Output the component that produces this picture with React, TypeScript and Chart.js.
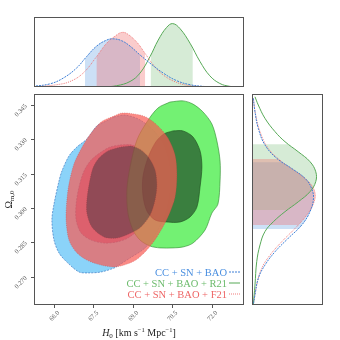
import React, { useEffect, useRef } from 'react';
import { Chart, registerables } from 'chart.js';

Chart.register(...registerables);

type Pt = [number, number];

// ---------- axis ranges & ticks ----------
const H0_MIN = 65.24;
const H0_MAX = 73.22;
const OM_MIN = 0.2577;
const OM_MAX = 0.3497;
const P_MAX_TOP = 1.104;
const P_MAX_SIDE = 1.097;

const H0_TICKS = [66.0, 67.5, 69.0, 70.5, 72.0];
const OM_TICKS = [0.27, 0.285, 0.3, 0.315, 0.33, 0.345];

const SERIES_LABELS = ['CC + SN + BAO', 'CC + SN + BAO + R21', 'CC + SN + BAO + F21'];

// ---------- 2D contours (H0, Omega_m0) ----------
const BLUE_OUTER: Pt[] = [
  [68.28, 0.3397], [67.98, 0.3379], [67.63, 0.3358], [67.25, 0.3301], [66.87, 0.3266],
  [66.57, 0.3227], [66.3, 0.3161], [66.19, 0.3118], [66.0, 0.3017], [65.92, 0.2948],
  [66.0, 0.286], [66.19, 0.2804], [66.49, 0.2764], [66.95, 0.2721], [67.33, 0.2717],
  [67.79, 0.2721], [68.28, 0.2738], [68.47, 0.2751], [68.89, 0.2782], [69.46, 0.2826],
  [69.91, 0.2895], [70.25, 0.2983], [70.41, 0.3078], [70.41, 0.3174], [70.22, 0.3262],
  [69.84, 0.3331], [69.27, 0.3384], [68.7, 0.3405],
];
const BLUE_INNER: Pt[] = [
  [68.51, 0.3275], [68.96, 0.3275], [69.34, 0.3253], [69.65, 0.3209], [69.8, 0.3144],
  [69.8, 0.3057], [69.61, 0.2978], [69.27, 0.2913], [68.81, 0.2869], [68.39, 0.2852],
  [67.9, 0.2847], [67.41, 0.286], [67.03, 0.2891], [66.84, 0.2948], [66.84, 0.3017],
  [66.95, 0.3092], [67.14, 0.3161], [67.41, 0.3209], [67.79, 0.3244], [68.13, 0.3266],
];
const GREEN_OUTER: Pt[] = [
  [70.41, 0.3462], [70.9, 0.3467], [71.28, 0.3453], [71.66, 0.3419], [72.0, 0.3366],
  [72.19, 0.3292], [72.31, 0.3205], [72.31, 0.3118], [72.23, 0.3017], [72.0, 0.2978],
  [71.74, 0.2904], [71.28, 0.2847], [70.9, 0.283], [70.52, 0.2826], [70.03, 0.2826],
  [69.65, 0.2834], [69.27, 0.286], [69.0, 0.2904], [68.81, 0.2978], [68.77, 0.3078],
  [68.89, 0.3179], [69.15, 0.3296], [69.53, 0.3375], [69.95, 0.3436],
];
const GREEN_INNER: Pt[] = [
  [70.52, 0.3336], [70.9, 0.3336], [71.28, 0.331], [71.55, 0.3249], [71.62, 0.3179],
  [71.55, 0.3092], [71.43, 0.3004], [71.17, 0.2961], [70.79, 0.2939], [70.29, 0.2939],
  [69.84, 0.2948], [69.53, 0.2987], [69.38, 0.3057], [69.38, 0.3135], [69.57, 0.3218],
  [69.87, 0.3288], [70.18, 0.3323],
];
const RED_OUTER: Pt[] = [
  [68.28, 0.3401], [68.58, 0.3414], [69.04, 0.341], [69.49, 0.3397], [69.95, 0.3358],
  [70.33, 0.3305], [70.6, 0.3231], [70.67, 0.3144], [70.6, 0.3048], [70.33, 0.2961],
  [69.91, 0.2874], [69.53, 0.2817], [69.11, 0.2773], [68.66, 0.2751], [68.28, 0.2743],
  [67.79, 0.2751], [67.25, 0.2773], [66.84, 0.2808], [66.57, 0.286], [66.46, 0.2948],
  [66.49, 0.3035], [66.57, 0.3105], [66.76, 0.3192], [67.03, 0.3257], [67.33, 0.3314],
  [67.79, 0.3375],
];
const RED_INNER: Pt[] = [
  [68.55, 0.3266], [68.92, 0.327], [69.3, 0.3253], [69.61, 0.3218], [69.84, 0.3166],
  [69.91, 0.31], [69.84, 0.3035], [69.65, 0.2969], [69.3, 0.2917], [68.92, 0.2891],
  [68.39, 0.2869], [67.9, 0.2874], [67.44, 0.2917], [67.25, 0.2978], [67.25, 0.3035],
  [67.33, 0.31], [67.48, 0.3174], [67.71, 0.3218], [68.05, 0.3249],
];

// ---------- 1D marginals: H0 ----------
const TOP_BLUE_H0 = [65.2, 65.85, 66.35, 66.86, 67.24, 67.62, 68.0, 68.25, 68.57, 68.89, 69.27, 69.65, 70.15, 70.66, 71.17, 71.66, 72.11];
const TOP_BLUE_P = [0.01, 0.05, 0.14, 0.3, 0.48, 0.645, 0.74, 0.76, 0.73, 0.645, 0.505, 0.375, 0.22, 0.1, 0.036, 0.01, 0];
const TOP_RED_H0 = [65.34, 66.1, 66.61, 67.11, 67.62, 68.0, 68.38, 68.57, 68.76, 69.14, 69.46, 69.77, 70.15, 70.66, 71.17, 71.66];
const TOP_RED_P = [0.005, 0.036, 0.087, 0.22, 0.48, 0.69, 0.82, 0.86, 0.845, 0.71, 0.53, 0.35, 0.19, 0.072, 0.02, 0.005];
const TOP_GREEN_H0 = [67.87, 68.38, 68.89, 69.27, 69.65, 69.96, 70.28, 70.51, 70.79, 71.17, 71.55, 71.92, 72.3, 72.68, 73.06];
const TOP_GREEN_P = [0, 0.02, 0.087, 0.22, 0.48, 0.74, 0.94, 1.0, 0.92, 0.69, 0.4, 0.177, 0.056, 0.01, 0];
const TOP_BLUE_BAND = [67.18, 69.27];
const TOP_RED_BAND = [67.62, 69.46];
const TOP_GREEN_BAND = [69.68, 71.27];

// ---------- 1D marginals: Omega_m0 ----------
const SIDE_BLUE_OM = [0.3478, 0.342, 0.3347, 0.3275, 0.3217, 0.3173, 0.3129, 0.3086, 0.3042, 0.2984, 0.2926, 0.2868, 0.2809, 0.2751, 0.2693, 0.2621, 0.2577];
const SIDE_BLUE_P = [0.02, 0.046, 0.097, 0.2, 0.38, 0.61, 0.82, 0.92, 0.95, 0.896, 0.77, 0.56, 0.355, 0.2, 0.097, 0.046, 0.02];
const SIDE_GREEN_OM = [0.3485, 0.3449, 0.3391, 0.3333, 0.3289, 0.3245, 0.3202, 0.3158, 0.3115, 0.3071, 0.3027, 0.2984, 0.294, 0.2897, 0.2839, 0.2766, 0.2664, 0.2577];
const SIDE_GREEN_P = [0.046, 0.097, 0.2, 0.355, 0.51, 0.715, 0.896, 0.985, 0.985, 0.896, 0.715, 0.51, 0.33, 0.2, 0.124, 0.073, 0.046, 0.02];
const SIDE_RED_OM = [0.3478, 0.3405, 0.3333, 0.326, 0.3202, 0.3151, 0.3108, 0.3064, 0.302, 0.2969, 0.2911, 0.2853, 0.2795, 0.2737, 0.2664, 0.2577];
const SIDE_RED_P = [0.02, 0.057, 0.124, 0.25, 0.46, 0.715, 0.896, 0.974, 0.95, 0.845, 0.665, 0.46, 0.28, 0.15, 0.073, 0.02];
const SIDE_BLUE_BAND = [0.2908, 0.3199];
const SIDE_GREEN_BAND = [0.2991, 0.3278];
const SIDE_RED_BAND = [0.2926, 0.3214];

// ---------- styles ----------
const SERIF = '"Liberation Serif", "DejaVu Serif", serif';
const BLUE_LINE = '#3d7fd6';
const GREEN_LINE = '#57a957';
const RED_LINE = 'rgba(238,110,110,0.9)';
const BLUE_TEXT = '#4a8fe0';
const GREEN_TEXT = '#6cbb6c';
const RED_TEXT = '#ee6666';
const FRAME = '#555';

const poly = (pts: Pt[]) => [...pts, pts[0]].map(([x, y]) => ({ x, y }));
const curve = (xs: number[], ys: number[]) => xs.map((x, i) => ({ x, y: ys[i] }));

type Seg = { t: string; size: number; italic?: boolean; dy?: number };
const segFont = (s: Seg) => `${s.italic ? 'italic ' : ''}${s.size}px ${SERIF}`;
function richWidth(ctx: CanvasRenderingContext2D, segs: Seg[]) {
  let w = 0;
  for (const s of segs) {
    ctx.font = segFont(s);
    w += ctx.measureText(s.t).width;
  }
  return w;
}
function drawRich(ctx: CanvasRenderingContext2D, segs: Seg[], x: number, y: number) {
  let cx = x;
  for (const s of segs) {
    ctx.font = segFont(s);
    ctx.fillText(s.t, cx, y + (s.dy || 0));
    cx += ctx.measureText(s.t).width;
  }
}

const framePlugin = {
  id: 'frame',
  afterDraw(chart: any) {
    const { ctx, chartArea: a } = chart;
    ctx.save();
    ctx.strokeStyle = FRAME;
    ctx.lineWidth = 1;
    ctx.strokeRect(a.left + 0.5, a.top + 0.5, a.right - a.left - 1, a.bottom - a.top - 1);
    ctx.restore();
  },
};

type Band = { ds: number; range: number[]; color: string };
const bandPlugin = (bands: Band[], vertical: boolean) => ({
  id: 'bands',
  beforeDatasetsDraw(chart: any) {
    const { ctx, chartArea: a } = chart;
    for (const b of bands) {
      const meta = chart.getDatasetMeta(b.ds);
      const line = meta.dataset;
      if (!line || !line.points || !line.points.length) continue;
      if (line.updateControlPoints) line.updateControlPoints(a, 'x');
      const pts = line.points;
      ctx.save();
      ctx.beginPath();
      if (vertical) {
        const y0 = chart.scales.y.getPixelForValue(b.range[1]);
        const y1 = chart.scales.y.getPixelForValue(b.range[0]);
        ctx.rect(a.left, y0, a.right - a.left, y1 - y0);
      } else {
        const x0 = chart.scales.x.getPixelForValue(b.range[0]);
        const x1 = chart.scales.x.getPixelForValue(b.range[1]);
        ctx.rect(x0, a.top, x1 - x0, a.bottom - a.top);
      }
      ctx.clip();
      ctx.beginPath();
      line.path(ctx);
      const first = pts[0];
      const last = pts[pts.length - 1];
      if (vertical) {
        ctx.lineTo(a.left, last.y);
        ctx.lineTo(a.left, first.y);
      } else {
        ctx.lineTo(last.x, a.bottom);
        ctx.lineTo(first.x, a.bottom);
      }
      ctx.closePath();
      ctx.fillStyle = b.color;
      ctx.fill();
      ctx.restore();
    }
  },
});

const axesPlugin = {
  id: 'axesText',
  afterDraw(chart: any) {
    const { ctx, chartArea: a, scales } = chart;
    const xs = scales.x;
    const ys = scales.y;
    ctx.save();
    ctx.strokeStyle = FRAME;
    ctx.lineWidth = 1;
    ctx.fillStyle = '#555';
    ctx.font = `6.5px ${SERIF}`;
    ctx.textAlign = 'center';
    ctx.textBaseline = 'middle';
    for (const t of H0_TICKS) {
      const px = Math.round(xs.getPixelForValue(t)) + 0.5;
      ctx.beginPath();
      ctx.moveTo(px, a.bottom);
      ctx.lineTo(px, a.bottom + 3);
      ctx.stroke();
      ctx.save();
      ctx.translate(px, a.bottom + 11);
      ctx.rotate(-Math.PI / 4);
      ctx.fillText(t.toFixed(1), 0, 0);
      ctx.restore();
    }
    for (const t of OM_TICKS) {
      const py = Math.round(ys.getPixelForValue(t)) + 0.5;
      ctx.beginPath();
      ctx.moveTo(a.left, py);
      ctx.lineTo(a.left - 3, py);
      ctx.stroke();
      ctx.save();
      ctx.translate(a.left - 13, py + 5);
      ctx.rotate(-Math.PI / 4);
      ctx.fillText(t.toFixed(3), 0, 0);
      ctx.restore();
    }
    // axis titles
    ctx.fillStyle = '#222';
    ctx.textAlign = 'left';
    ctx.textBaseline = 'alphabetic';
    const xt: Seg[] = [
      { t: 'H', size: 10, italic: true },
      { t: '0', size: 7, dy: 2 },
      { t: ' [km s', size: 10 },
      { t: '\u22121', size: 6.5, dy: -4 },
      { t: ' Mpc', size: 10 },
      { t: '\u22121', size: 6.5, dy: -4 },
      { t: ']', size: 10 },
    ];
    const cx = (a.left + a.right) / 2;
    drawRich(ctx, xt, cx - richWidth(ctx, xt) / 2, 335.5);
    const yt: Seg[] = [
      { t: '\u03A9', size: 10 },
      { t: 'm,0', size: 7, dy: 2 },
    ];
    ctx.save();
    ctx.translate(11.5, (a.top + a.bottom) / 2);
    ctx.rotate(-Math.PI / 2);
    drawRich(ctx, yt, -richWidth(ctx, yt) / 2, 0);
    ctx.restore();

    // legend
    const colors = [BLUE_TEXT, GREEN_TEXT, RED_TEXT];
    const lineColors = [BLUE_LINE, GREEN_LINE, RED_LINE];
    const dashes = [[2, 1], [], [1, 1]];
    const right = a.right - 17;
    ctx.textAlign = 'right';
    ctx.font = `10.5px ${SERIF}`;
    SERIES_LABELS.forEach((lab, i) => {
      const base = a.bottom - 29.5 + i * 11;
      ctx.fillStyle = colors[i];
      ctx.fillText(lab, right, base);
      ctx.strokeStyle = lineColors[i];
      ctx.lineWidth = 1;
      ctx.setLineDash(dashes[i]);
      ctx.beginPath();
      ctx.moveTo(right + 2, base - 3.5);
      ctx.lineTo(right + 13, base - 3.5);
      ctx.stroke();
    });
    ctx.setLineDash([]);
    ctx.restore();
  },
};

const baseOptions = (padding: any, xr: number[], yr: number[]) => ({
  animation: false,
  responsive: false,
  events: [],
  layout: { padding },
  plugins: { legend: { display: false }, tooltip: { enabled: false } },
  elements: { point: { radius: 0 } },
  scales: {
    x: { type: 'linear', min: xr[0], max: xr[1], display: false },
    y: { type: 'linear', min: yr[0], max: yr[1], display: false },
  },
});

const contourDs = (pts: Pt[], fill: string, border: string, dash: number[], order: number) => ({
  data: poly(pts),
  fill: 'shape',
  backgroundColor: fill,
  borderColor: border,
  borderWidth: 0.7,
  borderDash: dash,
  tension: 0.3,
  pointRadius: 0,
  order,
});

const curveDs = (data: any[], color: string, dash: number[]) => ({
  data,
  fill: false,
  borderColor: color,
  borderWidth: 1,
  borderDash: dash,
  tension: 0.4,
  pointRadius: 0,
});

export default function App() {
  const mainRef = useRef<HTMLCanvasElement>(null);
  const topRef = useRef<HTMLCanvasElement>(null);
  const sideRef = useRef<HTMLCanvasElement>(null);

  useEffect(() => {
    const charts: Chart[] = [];
    const main = new Chart(mainRef.current as HTMLCanvasElement, {
      type: 'line',
      data: {
        datasets: [
          contourDs(BLUE_OUTER, '#8bd3f9', 'rgba(50,110,190,0.9)', [2, 1.2], 6),
          contourDs(BLUE_INNER, '#9a6eaa', 'rgba(50,90,160,0.7)', [2, 1.2], 5),
          contourDs(GREEN_OUTER, 'rgba(100,240,100,0.9)', 'rgba(50,140,50,0.9)', [], 4),
          contourDs(GREEN_INNER, 'rgba(55,118,60,0.93)', 'rgba(30,80,30,0.9)', [], 3),
          contourDs(RED_OUTER, 'rgba(250,90,82,0.7)', 'rgba(200,60,60,0.6)', [1, 1.2], 2),
          contourDs(RED_INNER, 'rgba(53,49,57,0.45)', 'rgba(150,50,60,0.6)', [1, 1.2], 1),
        ] as any,
      },
      options: baseOptions({ left: 34, top: 94, right: 96, bottom: 35 }, [H0_MIN, H0_MAX], [OM_MIN, OM_MAX]) as any,
      plugins: [framePlugin, axesPlugin],
    });
    charts.push(main);

    const top = new Chart(topRef.current as HTMLCanvasElement, {
      type: 'line',
      data: {
        datasets: [
          curveDs(curve(TOP_BLUE_H0, TOP_BLUE_P), BLUE_LINE, [2, 1]),
          curveDs(curve(TOP_RED_H0, TOP_RED_P), RED_LINE, [1, 1]),
          curveDs(curve(TOP_GREEN_H0, TOP_GREEN_P), GREEN_LINE, []),
        ] as any,
      },
      options: baseOptions({ left: 34, top: 17, right: 96, bottom: 253 }, [H0_MIN, H0_MAX], [0, P_MAX_TOP]) as any,
      plugins: [
        bandPlugin(
          [
            { ds: 0, range: TOP_BLUE_BAND, color: 'rgba(110,165,230,0.35)' },
            { ds: 1, range: TOP_RED_BAND, color: 'rgba(240,110,110,0.35)' },
            { ds: 2, range: TOP_GREEN_BAND, color: 'rgba(120,190,120,0.3)' },
          ],
          false
        ),
        framePlugin,
      ],
    });
    charts.push(top);

    const side = new Chart(sideRef.current as HTMLCanvasElement, {
      type: 'line',
      data: {
        datasets: [
          curveDs(curve(SIDE_BLUE_P, SIDE_BLUE_OM), BLUE_LINE, [2, 1]),
          curveDs(curve(SIDE_GREEN_P, SIDE_GREEN_OM), GREEN_LINE, []),
          curveDs(curve(SIDE_RED_P, SIDE_RED_OM), RED_LINE, [1, 1]),
        ] as any,
      },
      options: baseOptions({ left: 252, top: 94, right: 17, bottom: 35 }, [0, P_MAX_SIDE], [OM_MIN, OM_MAX]) as any,
      plugins: [
        bandPlugin(
          [
            { ds: 0, range: SIDE_BLUE_BAND, color: 'rgba(110,165,230,0.35)' },
            { ds: 1, range: SIDE_GREEN_BAND, color: 'rgba(120,190,120,0.3)' },
            { ds: 2, range: SIDE_RED_BAND, color: 'rgba(240,110,110,0.35)' },
          ],
          true
        ),
        framePlugin,
      ],
    });
    charts.push(side);

    return () => charts.forEach((c) => c.destroy());
  }, []);

  const cs: React.CSSProperties = { position: 'absolute', left: 0, top: 0, display: 'block' };
  return (
    <div style={{ position: 'fixed', left: 0, top: 0, width: 340, height: 340, background: '#fff' }}>
      <canvas ref={topRef} width={340} height={340} style={cs} />
      <canvas ref={sideRef} width={340} height={340} style={cs} />
      <canvas ref={mainRef} width={340} height={340} style={cs} />
    </div>
  );
}
